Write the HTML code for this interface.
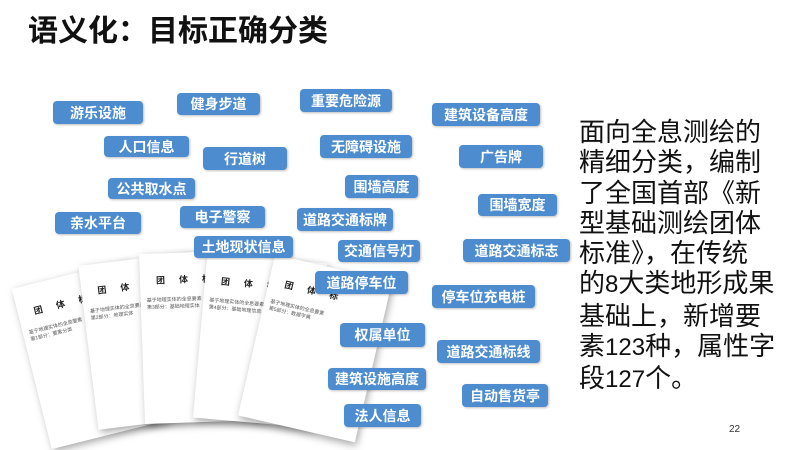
<!DOCTYPE html>
<html><head><meta charset="utf-8"><style>
body{margin:0;width:800px;height:450px;background:#fff;position:relative;overflow:hidden;font-family:"Liberation Sans","Noto Sans CJK SC",sans-serif}
.t{position:absolute;left:28px;top:6px;font-size:30px;font-weight:bold;color:#111}
.b{position:absolute;background:#4d8ccf;color:#fff;font-weight:bold;font-size:14px;border-radius:4px;display:flex;align-items:center;justify-content:center;box-shadow:1px 1px 2px rgba(0,0,0,.25);white-space:nowrap}
.r{position:absolute;left:579px;top:117px;font-size:26px;line-height:30.3px;color:#111;width:215px}
.r span{font-size:24px}
.d{position:absolute;width:120px;height:165px;background:#fff;box-shadow:2px 3px 8px rgba(0,0,0,.35);font-size:5px;color:#555;padding:6px;box-sizing:border-box}
.d b{display:block;font-size:9px;margin:14px 0 10px 10px;letter-spacing:14px;color:#222}
.pn{position:absolute;left:729px;top:424px;font-size:10px;color:#333}
</style></head><body>
<div class="t">语义化：目标正确分类</div>
<div class="d" style="left:30px;top:272px;transform:rotate(-14deg)"><b>团体标</b>基于地理实体的全息要素<br>第1部分：要素分类</div>
<div class="d" style="left:88px;top:258px;transform:rotate(-7deg)"><b>团体标</b>基于地理实体的全息要素<br>第2部分：地理实体</div>
<div class="d" style="left:142px;top:252px;height:170px;transform:rotate(-2deg)"><b>团体标</b>基于地理实体的全息要素<br>第3部分：基础地理实体</div>
<div class="d" style="left:200px;top:258px;transform:rotate(5deg)"><b>团体标</b>基于地理实体的全息要素<br>第4部分：基础地理信息</div>
<div class="d" style="left:255px;top:266px;transform:rotate(13deg)"><b>团体标</b>基于地理实体的全息要素<br>第5部分：数据字典</div>
<div class="b" style="left:53px;top:101px;width:90px;height:23px">游乐设施</div>
<div class="b" style="left:177px;top:93px;width:83px;height:22px">健身步道</div>
<div class="b" style="left:300px;top:89px;width:92px;height:23px">重要危险源</div>
<div class="b" style="left:432px;top:103px;width:108px;height:23px">建筑设备高度</div>
<div class="b" style="left:104px;top:136px;width:85px;height:21px">人口信息</div>
<div class="b" style="left:203px;top:147px;width:84px;height:23px">行道树</div>
<div class="b" style="left:320px;top:135px;width:92px;height:23px">无障碍设施</div>
<div class="b" style="left:459px;top:145px;width:84px;height:23px">广告牌</div>
<div class="b" style="left:108px;top:178px;width:87px;height:21px">公共取水点</div>
<div class="b" style="left:345px;top:175px;width:73px;height:23px">围墙高度</div>
<div class="b" style="left:180px;top:206px;width:85px;height:22px">电子警察</div>
<div class="b" style="left:478px;top:194px;width:79px;height:22px">围墙宽度</div>
<div class="b" style="left:55px;top:212px;width:86px;height:22px">亲水平台</div>
<div class="b" style="left:297px;top:208px;width:96px;height:23px">道路交通标牌</div>
<div class="b" style="left:194px;top:236px;width:99px;height:22px">土地现状信息</div>
<div class="b" style="left:338px;top:240px;width:82px;height:22px">交通信号灯</div>
<div class="b" style="left:463px;top:239px;width:107px;height:23px">道路交通标志</div>
<div class="b" style="left:315px;top:271px;width:93px;height:23px">道路停车位</div>
<div class="b" style="left:432px;top:285px;width:103px;height:23px">停车位充电桩</div>
<div class="b" style="left:340px;top:323px;width:85px;height:24px">权属单位</div>
<div class="b" style="left:437px;top:340px;width:103px;height:23px">道路交通标线</div>
<div class="b" style="left:328px;top:368px;width:98px;height:22px">建筑设施高度</div>
<div class="b" style="left:462px;top:384px;width:86px;height:23px">自动售货亭</div>
<div class="b" style="left:344px;top:404px;width:77px;height:23px">法人信息</div>
<div class="r">面向全息测绘的<br>精细分类，编制<br>了全国首部《新<br>型基础测绘团体<br>标准》，在传统<br>的<span>8</span>大类地形成果<br>基础上，新增要<br>素<span>123</span>种，属性字<br>段<span>127</span>个。</div>
<div class="pn">22</div>
</body></html>
